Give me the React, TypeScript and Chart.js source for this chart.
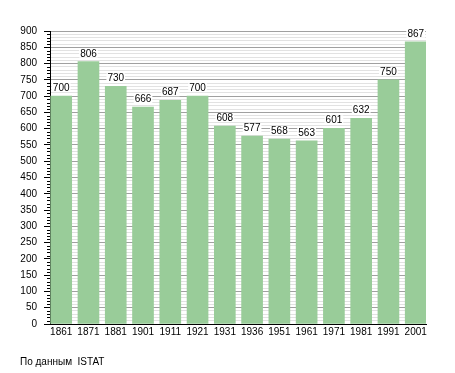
import React, { useEffect, useRef } from "react";
import { Chart, registerables } from "chart.js";

Chart.register(...registerables);

const years = ["1861", "1871", "1881", "1901", "1911", "1921", "1931", "1936", "1951", "1961", "1971", "1981", "1991", "2001"];
const population = [700, 806, 730, 666, 687, 700, 608, 577, 568, 563, 601, 632, 750, 867];
const yMax = 900;
const footerText = "По данным  ISTAT";

const FONT = "'Liberation Sans', Arial, sans-serif";

export default function App() {
  const ref = useRef<HTMLCanvasElement | null>(null);

  useEffect(() => {
    if (!ref.current) return;

    const extras = {
      id: "extras",
      afterDraw(chart: any) {
        const ctx = chart.ctx;
        const y = chart.scales.y;
        ctx.save();
        // minor ticks
        ctx.strokeStyle = "#000";
        ctx.lineWidth = 1;
        y.ticks.forEach((t: any) => {
          if (t.value % 50 !== 0) {
            const py = Math.round(y.getPixelForValue(t.value)) + 0.5;
            ctx.beginPath();
            ctx.moveTo(y.right - 3, py);
            ctx.lineTo(y.right, py);
            ctx.stroke();
          }
        });
        ctx.restore();
      },
      afterDatasetsDraw(chart: any) {
        const ctx = chart.ctx;
        const meta = chart.getDatasetMeta(0);
        ctx.save();
        ctx.font = `10px ${FONT}`;
        ctx.textAlign = "center";
        ctx.textBaseline = "alphabetic";
        meta.data.forEach((bar: any, i: number) => {
          const txt = String(population[i]);
          const w = ctx.measureText(txt).width;
          ctx.fillStyle = "#fff";
          ctx.fillRect(bar.x - w / 2 - 1, bar.y - 13, w + 2, 9);
          ctx.fillStyle = "#000";
          ctx.fillText(txt, bar.x, bar.y - 5);
        });
        ctx.restore();
      },
    };

    const chart = new Chart(ref.current, {
      type: "bar",
      data: {
        datasets: [
          {
            data: population.map((v, i) => ({ x: i, y: v })),
            backgroundColor: "#99cc99",
            borderWidth: 0,
            barThickness: 21,
          },
        ],
      },
      options: {
        responsive: false,
        animation: false,
        layout: { padding: { left: 20, right: 29, top: 31, bottom: 0 } },
        plugins: {
          legend: { display: false },
          tooltip: { enabled: false },
          title: {
            display: true,
            text: footerText,
            position: "bottom",
            align: "start",
            color: "#000",
            font: { family: FONT, size: 10, weight: "normal" },
            padding: { top: 0, bottom: 5 },
          },
        },
        scales: {
          x: {
            type: "linear",
            min: -0.4107,
            max: 13.377,
            offset: false,
            grid: { display: false, drawTicks: false, offset: false },
            border: { display: true, color: "#000", width: 1 },
            ticks: {
              stepSize: 1,
              includeBounds: false,
              autoSkip: false,
              maxRotation: 0,
              padding: 2,
              color: "#000",
              font: { family: FONT, size: 10 },
              callback: (v: any) => (Number.isInteger(v) && years[v] !== undefined ? years[v] : ""),
            },
            afterFit: (s: any) => {
              s.height = 32;
            },
          },
          y: {
            type: "linear",
            min: 0,
            max: yMax,
            grid: {
              color: (c: any) => (c.tick && c.tick.value % 50 === 0 ? "#a0a0a0" : "#e2e2e2"),
              tickColor: (c: any) => (c.tick && c.tick.value % 50 === 0 ? "#000" : "rgba(0,0,0,0)"),
              tickLength: 6,
              drawTicks: true,
            },
            border: { display: true, color: "#000", width: 1 },
            ticks: {
              stepSize: 10,
              autoSkip: false,
              padding: 7,
              color: "#000",
              font: { family: FONT, size: 10 },
              callback: (v: any) => (v % 50 === 0 ? String(v) : ""),
            },
            afterFit: (s: any) => {
              s.width = 30;
            },
          },
        },
      },
      plugins: [extras],
    } as any);

    return () => chart.destroy();
  }, []);

  return (
    <div style={{ position: "absolute", left: 0, top: 0, width: 455, height: 373, background: "#fff" }}>
      <canvas ref={ref} width={455} height={373} />
    </div>
  );
}
